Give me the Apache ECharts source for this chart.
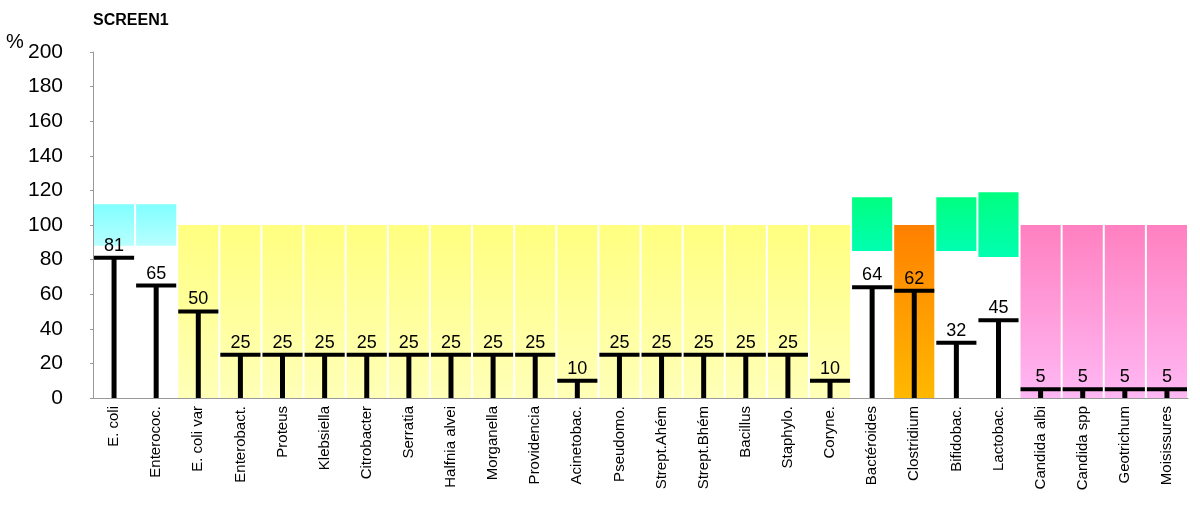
<!DOCTYPE html>
<html><head><meta charset="utf-8">
<script src="https://cdn.jsdelivr.net/npm/echarts@6/dist/echarts.min.js"></script>
<style>body{margin:0}#c{width:1200px;height:527px}</style></head>
<body><div id="c"></div>
<script>
var categories = ['E. coli','Enterococ.','E. coli var','Enterobact.','Proteus','Klebsiella','Citrobacter','Serratia','Halfnia alvei','Morganella','Providencia','Acinetobac.','Pseudomo.','Strept.Ahém','Strept.Bhém','Bacillus','Staphylo.','Coryne.','Bactéroides','Clostridium','Bifidobac.','Lactobac.','Candida albi','Candida spp','Geotrichum','Moisissures'];
var values = [81,65,50,25,25,25,25,25,25,25,25,10,25,25,25,25,25,10,64,62,32,45,5,5,5,5];
var bandLow = [88,88,0,0,0,0,0,0,0,0,0,0,0,0,0,0,0,0,85,0,85,81.5,0,0,0,0];
var bandHigh = [112,112,100,100,100,100,100,100,100,100,100,100,100,100,100,100,100,100,116,100,116,119,100,100,100,100];
var bandGroup = ['c','c','y','y','y','y','y','y','y','y','y','y','y','y','y','y','y','y','g','o','g','g','p','p','p','p'];

var palette = {
  c: ['#80ffff', '#b8ffff'],
  y: ['#ffff80', '#ffffb8'],
  g: ['#00ff80', '#00ffb0'],
  o: ['#ff8000', '#ffb800'],
  p: ['#ff80c0', '#ffb8f4']
};

var chart = echarts.init(document.getElementById('c'));
chart.setOption({
  animation: false,
  title: { text: 'SCREEN1', left: 88, top: 8, textStyle: { fontFamily: 'Liberation Sans', fontSize: 16, fontWeight: 'bold', color: '#000' } },
  graphic: [{ type: 'text', left: 6, top: 32, style: { text: '%', font: '20px Liberation Sans', fill: '#000' } }],
  grid: { left: 93, right: 12, top: 52, bottom: 129 },
  xAxis: {
    type: 'category', data: categories,
    axisLine: { lineStyle: { color: '#999' } },
    axisTick: { lineStyle: { color: '#999' } },
    axisLabel: { rotate: 90, interval: 0, fontFamily: 'Liberation Sans', fontSize: 15, color: '#000' }
  },
  yAxis: {
    min: 0, max: 200, interval: 20,
    axisLine: { show: true, lineStyle: { color: '#999' } },
    axisTick: { show: true, length: 3, lineStyle: { color: '#999' } },
    splitLine: { show: false },
    axisLabel: { fontFamily: 'Liberation Sans', fontSize: 21, color: '#000', margin: 30 }
  },
  series: [
    {
      type: 'custom',
      renderItem: function (params, api) {
        var i = api.value(0);
        var w = api.size([1, 0])[0];
        var x = api.coord([i, 0])[0] - w / 2 + 1;
        var yTop = api.coord([i, bandHigh[i]])[1];
        var yBot = api.coord([i, bandLow[i]])[1];
        var pc = palette[bandGroup[i]];
        return {
          type: 'rect',
          shape: { x: x, y: yTop, width: w - 2, height: yBot - yTop },
          style: { fill: new echarts.graphic.LinearGradient(0, 0, 0, 1, [{ offset: 0, color: pc[0] }, { offset: 1, color: pc[1] }]) }
        };
      },
      data: categories.map(function (c, i) { return [i, bandHigh[i]]; })
    },
    {
      type: 'custom',
      renderItem: function (params, api) {
        var i = api.value(0);
        var v = api.value(1);
        var w = api.size([1, 0])[0];
        var cx = api.coord([i, 0])[0];
        var y0 = api.coord([i, 0])[1];
        var yv = api.coord([i, v])[1];
        return {
          type: 'group',
          children: [
            { type: 'line', shape: { x1: cx, y1: y0, x2: cx, y2: yv }, style: { stroke: '#000', lineWidth: 5 } },
            { type: 'line', shape: { x1: cx - w / 2 + 1, y1: yv, x2: cx + w / 2 - 1, y2: yv }, style: { stroke: '#000', lineWidth: 4 } },
            { type: 'text', x: cx, y: yv - 3, style: { text: String(v), font: '18px Liberation Sans', fill: '#000', align: 'center', verticalAlign: 'bottom' } }
          ]
        };
      },
      data: values.map(function (v, i) { return [i, v]; }),
      z: 3
    }
  ]
});
</script></body></html>
